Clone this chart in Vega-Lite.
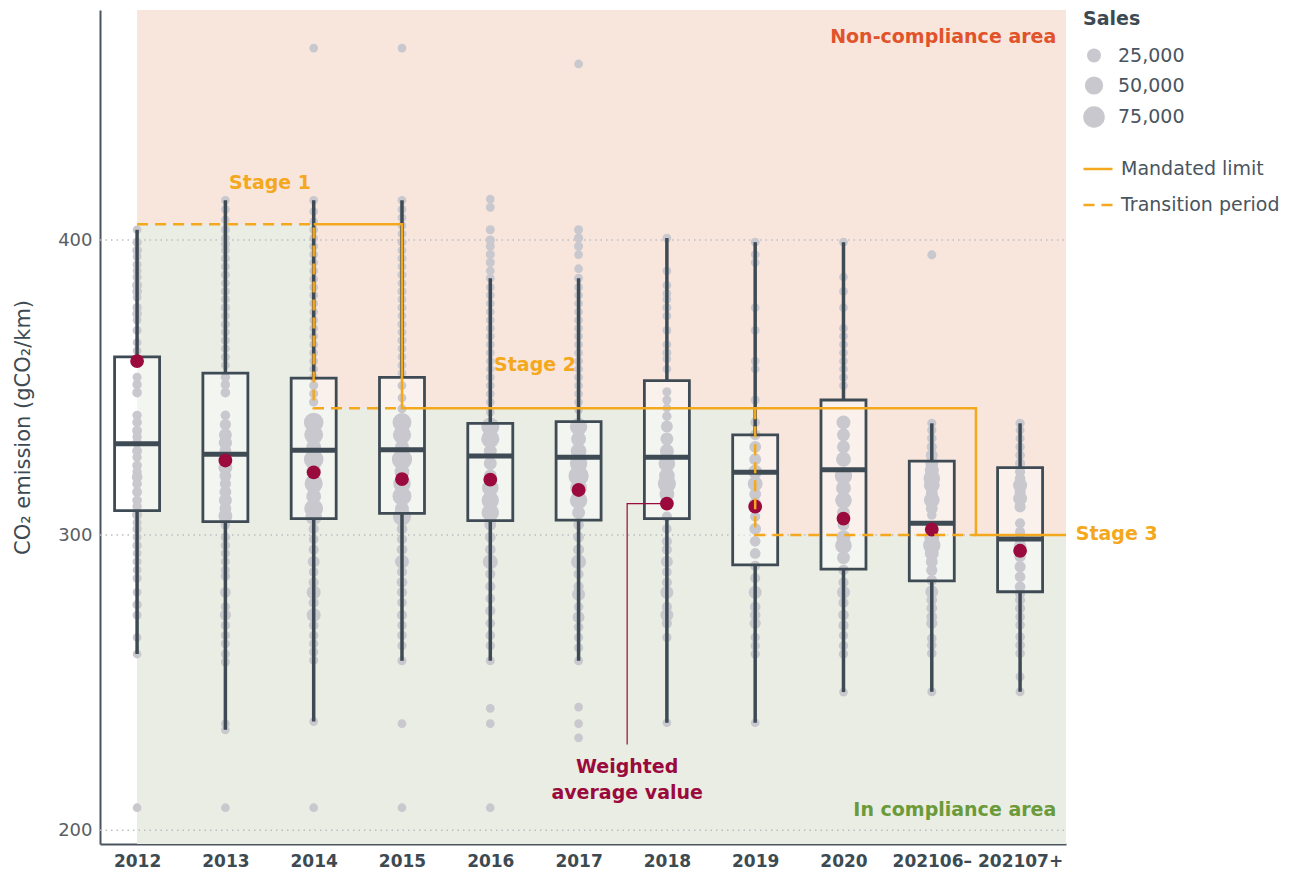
{
"$schema":"https://vega.github.io/schema/vega-lite/v6.json",
"width":966,"height":834,
"autosize":{"type":"none"},
"padding":{"left":100,"top":10,"right":244,"bottom":34},
"background":"white",
"config":{"view":{"stroke":null},"font":"DejaVu Sans","scale":{"continuousPadding":0},
 "axisX":{"ticks":false,"grid":false,"domainColor":"#4a5560","domainWidth":2,"labelFontSize":17,"labelFontWeight":"bold","labelColor":"#3d4a52","labelFont":"DejaVu Sans","labelPadding":9,"labelFlush":false,"labelOverlap":false},
 "axisY":{"ticks":false,"grid":false,"domainColor":"#4a5560","domainWidth":2,"labelFontSize":18,"labelColor":"#5a5e63","labelFont":"DejaVu Sans","labelPadding":8,"titleFontSize":21,"titleFontWeight":"normal","titleColor":"#3d4a52","titleFont":"DejaVu Sans","titlePadding":24}},
"datasets":{
"periods":[{"p":"2012","i":0},{"p":"2013","i":1},{"p":"2014","i":2},{"p":"2015","i":3},{"p":"2016","i":4},{"p":"2017","i":5},{"p":"2018","i":6},{"p":"2019","i":7},{"p":"2020","i":8},{"p":"202106–","i":9},{"p":"202107+","i":10}],
"boxes":[
{"p":"2012","lo":259.7,"q1":308.3,"med":331,"q3":360.4,"hi":403.5,"mean":359},
{"p":"2013","lo":234,"q1":304.6,"med":327.4,"q3":354.9,"hi":413.5,"mean":325.3},
{"p":"2014","lo":236.8,"q1":305.6,"med":328.8,"q3":353.2,"hi":413.5,"mean":321.3},
{"p":"2015","lo":257.4,"q1":307.4,"med":328.9,"q3":353.5,"hi":413.5,"mean":319},
{"p":"2016","lo":257.4,"q1":304.9,"med":326.8,"q3":337.9,"hi":387.1,"mean":318.8},
{"p":"2017","lo":257.4,"q1":305.1,"med":326.4,"q3":338.5,"hi":387.1,"mean":315.3},
{"p":"2018","lo":236.4,"q1":305.6,"med":326.4,"q3":352.4,"hi":400.7,"mean":310.7},
{"p":"2019","lo":236.4,"q1":289.9,"med":321.3,"q3":334,"hi":399.3,"mean":309.7},
{"p":"2020","lo":246.8,"q1":288.5,"med":322.2,"q3":345.8,"hi":399.3,"mean":305.6},
{"p":"202106–","lo":246.9,"q1":284.5,"med":304,"q3":325.1,"hi":337.9,"mean":301.9},
{"p":"202107+","lo":246.9,"q1":280.8,"med":298.7,"q3":322.9,"hi":337.9,"mean":294.7}],
"points":[
{"p":"2012","v":403.5,"s":3000},{"p":"2012","v":399.3,"s":5000},{"p":"2012","v":396.5,"s":6000},{"p":"2012","v":394.4,"s":3000},{"p":"2012","v":391.7,"s":4000},{"p":"2012","v":389.6,"s":3000},{"p":"2012","v":387.5,"s":4000},{"p":"2012","v":384.7,"s":7000},{"p":"2012","v":382.6,"s":6000},{"p":"2012","v":380.6,"s":3000},{"p":"2012","v":377.1,"s":5000},{"p":"2012","v":375,"s":6000},{"p":"2012","v":372.9,"s":3000},{"p":"2012","v":369.4,"s":4000},{"p":"2012","v":365.3,"s":3000},{"p":"2012","v":362.5,"s":3000},{"p":"2012","v":359,"s":12000},{"p":"2012","v":353.5,"s":4000},{"p":"2012","v":351,"s":5000},{"p":"2012","v":348.3,"s":6000},{"p":"2012","v":340.6,"s":5000},{"p":"2012","v":338.2,"s":6000},{"p":"2012","v":335.4,"s":7000},{"p":"2012","v":333.3,"s":5000},{"p":"2012","v":331.3,"s":6000},{"p":"2012","v":328.5,"s":7000},{"p":"2012","v":326.4,"s":5000},{"p":"2012","v":323.6,"s":6000},{"p":"2012","v":321.5,"s":5000},{"p":"2012","v":319.7,"s":10000},{"p":"2012","v":317.4,"s":6000},{"p":"2012","v":314.6,"s":7000},{"p":"2012","v":311.8,"s":6000},{"p":"2012","v":309.7,"s":5000},{"p":"2012","v":306.9,"s":8000},{"p":"2012","v":304.2,"s":4000},{"p":"2012","v":302.1,"s":5000},{"p":"2012","v":299.3,"s":3000},{"p":"2012","v":296.5,"s":5000},{"p":"2012","v":293.8,"s":3000},{"p":"2012","v":291,"s":4000},{"p":"2012","v":288.2,"s":3000},{"p":"2012","v":285.4,"s":4000},{"p":"2012","v":280.6,"s":3000},{"p":"2012","v":276.4,"s":5000},{"p":"2012","v":272.9,"s":4000},{"p":"2012","v":265.3,"s":3000},{"p":"2012","v":259.7,"s":3000},{"p":"2012","v":207.6,"s":3000},
{"p":"2013","v":413.5,"s":3000},{"p":"2013","v":410.4,"s":3000},{"p":"2013","v":406.9,"s":3000},{"p":"2013","v":403.5,"s":4000},{"p":"2013","v":400.7,"s":3000},{"p":"2013","v":398.6,"s":4000},{"p":"2013","v":396.5,"s":3000},{"p":"2013","v":393.8,"s":4000},{"p":"2013","v":391,"s":3000},{"p":"2013","v":388.2,"s":4000},{"p":"2013","v":385.4,"s":3000},{"p":"2013","v":382.6,"s":4000},{"p":"2013","v":379.9,"s":3000},{"p":"2013","v":377.1,"s":5000},{"p":"2013","v":374.3,"s":3000},{"p":"2013","v":371.5,"s":4000},{"p":"2013","v":368.8,"s":3000},{"p":"2013","v":366,"s":4000},{"p":"2013","v":363.2,"s":3000},{"p":"2013","v":360.4,"s":4000},{"p":"2013","v":357.6,"s":3000},{"p":"2013","v":353.5,"s":5000},{"p":"2013","v":351,"s":5000},{"p":"2013","v":348.3,"s":6000},{"p":"2013","v":340.6,"s":6000},{"p":"2013","v":337.5,"s":12000},{"p":"2013","v":334,"s":20000},{"p":"2013","v":331.3,"s":22000},{"p":"2013","v":328.5,"s":15000},{"p":"2013","v":325.7,"s":18000},{"p":"2013","v":322.9,"s":25000},{"p":"2013","v":320.1,"s":15000},{"p":"2013","v":317.4,"s":12000},{"p":"2013","v":314.6,"s":15000},{"p":"2013","v":311.8,"s":20000},{"p":"2013","v":309,"s":15000},{"p":"2013","v":306.5,"s":25000},{"p":"2013","v":303.5,"s":6000},{"p":"2013","v":299.3,"s":5000},{"p":"2013","v":296.5,"s":5000},{"p":"2013","v":293.8,"s":4000},{"p":"2013","v":291,"s":4000},{"p":"2013","v":288.2,"s":4000},{"p":"2013","v":286.1,"s":5000},{"p":"2013","v":280.6,"s":10000},{"p":"2013","v":275.7,"s":5000},{"p":"2013","v":272.9,"s":12000},{"p":"2013","v":269.4,"s":5000},{"p":"2013","v":266,"s":4000},{"p":"2013","v":263.2,"s":4000},{"p":"2013","v":259.7,"s":4000},{"p":"2013","v":257,"s":4000},{"p":"2013","v":236.1,"s":3000},{"p":"2013","v":234,"s":3000},{"p":"2013","v":207.6,"s":3000},
{"p":"2014","v":465.1,"s":3000},{"p":"2014","v":413.5,"s":3000},{"p":"2014","v":409.7,"s":3000},{"p":"2014","v":406.3,"s":3000},{"p":"2014","v":403.5,"s":3000},{"p":"2014","v":400.7,"s":3000},{"p":"2014","v":397.9,"s":3000},{"p":"2014","v":395.1,"s":3000},{"p":"2014","v":392.4,"s":3000},{"p":"2014","v":389.6,"s":3000},{"p":"2014","v":386.8,"s":3000},{"p":"2014","v":384,"s":3000},{"p":"2014","v":381.3,"s":3000},{"p":"2014","v":378.5,"s":3000},{"p":"2014","v":375.7,"s":3000},{"p":"2014","v":372.9,"s":3000},{"p":"2014","v":370.1,"s":3000},{"p":"2014","v":367.4,"s":3000},{"p":"2014","v":364.6,"s":3000},{"p":"2014","v":361.8,"s":3000},{"p":"2014","v":359,"s":3000},{"p":"2014","v":356.3,"s":3000},{"p":"2014","v":353.5,"s":3000},{"p":"2014","v":350.7,"s":4000},{"p":"2014","v":347.9,"s":4000},{"p":"2014","v":345.1,"s":5000},{"p":"2014","v":338.2,"s":60000},{"p":"2014","v":334,"s":55000},{"p":"2014","v":329.9,"s":30000},{"p":"2014","v":325.7,"s":60000},{"p":"2014","v":321.5,"s":30000},{"p":"2014","v":317.4,"s":50000},{"p":"2014","v":313.2,"s":30000},{"p":"2014","v":309,"s":55000},{"p":"2014","v":306.3,"s":40000},{"p":"2014","v":302.1,"s":8000},{"p":"2014","v":298.6,"s":6000},{"p":"2014","v":295.1,"s":8000},{"p":"2014","v":291,"s":15000},{"p":"2014","v":287.5,"s":6000},{"p":"2014","v":284,"s":8000},{"p":"2014","v":280.6,"s":25000},{"p":"2014","v":277.1,"s":8000},{"p":"2014","v":272.9,"s":25000},{"p":"2014","v":269.4,"s":6000},{"p":"2014","v":266,"s":5000},{"p":"2014","v":263.2,"s":5000},{"p":"2014","v":260.4,"s":5000},{"p":"2014","v":257.6,"s":4000},{"p":"2014","v":236.8,"s":3000},{"p":"2014","v":207.6,"s":3000},
{"p":"2015","v":465.1,"s":3000},{"p":"2015","v":413.5,"s":3000},{"p":"2015","v":410.4,"s":3000},{"p":"2015","v":407.6,"s":3000},{"p":"2015","v":404.9,"s":3000},{"p":"2015","v":402.1,"s":3000},{"p":"2015","v":399.3,"s":4000},{"p":"2015","v":396.5,"s":3000},{"p":"2015","v":393.8,"s":4000},{"p":"2015","v":391,"s":3000},{"p":"2015","v":388.2,"s":4000},{"p":"2015","v":385.4,"s":3000},{"p":"2015","v":382.6,"s":4000},{"p":"2015","v":379.9,"s":3000},{"p":"2015","v":377.1,"s":4000},{"p":"2015","v":374.3,"s":3000},{"p":"2015","v":371.5,"s":4000},{"p":"2015","v":368.8,"s":3000},{"p":"2015","v":366,"s":4000},{"p":"2015","v":363.2,"s":3000},{"p":"2015","v":360.4,"s":3000},{"p":"2015","v":357.6,"s":3000},{"p":"2015","v":354.9,"s":3000},{"p":"2015","v":350.7,"s":3000},{"p":"2015","v":346.5,"s":3000},{"p":"2015","v":342.8,"s":4000},{"p":"2015","v":338.2,"s":55000},{"p":"2015","v":334,"s":50000},{"p":"2015","v":329.9,"s":25000},{"p":"2015","v":325.7,"s":65000},{"p":"2015","v":321.5,"s":30000},{"p":"2015","v":317.4,"s":45000},{"p":"2015","v":313.2,"s":55000},{"p":"2015","v":309,"s":25000},{"p":"2015","v":306.3,"s":50000},{"p":"2015","v":302.1,"s":10000},{"p":"2015","v":298.6,"s":8000},{"p":"2015","v":295.1,"s":10000},{"p":"2015","v":291,"s":25000},{"p":"2015","v":287.5,"s":8000},{"p":"2015","v":284,"s":10000},{"p":"2015","v":280.6,"s":8000},{"p":"2015","v":277.1,"s":6000},{"p":"2015","v":272.9,"s":8000},{"p":"2015","v":269.4,"s":5000},{"p":"2015","v":266,"s":6000},{"p":"2015","v":262.5,"s":5000},{"p":"2015","v":257.4,"s":4000},{"p":"2015","v":236.1,"s":3000},{"p":"2015","v":207.6,"s":3000},
{"p":"2016","v":413.9,"s":3000},{"p":"2016","v":411.1,"s":3000},{"p":"2016","v":403.5,"s":4000},{"p":"2016","v":400,"s":5000},{"p":"2016","v":397.9,"s":4000},{"p":"2016","v":395.1,"s":4000},{"p":"2016","v":392.4,"s":4000},{"p":"2016","v":389.6,"s":3000},{"p":"2016","v":387.1,"s":3000},{"p":"2016","v":384,"s":3000},{"p":"2016","v":381.3,"s":3000},{"p":"2016","v":378.5,"s":3000},{"p":"2016","v":375.7,"s":3000},{"p":"2016","v":372.9,"s":3000},{"p":"2016","v":370.1,"s":3000},{"p":"2016","v":367.4,"s":3000},{"p":"2016","v":364.6,"s":3000},{"p":"2016","v":361.8,"s":3000},{"p":"2016","v":359,"s":3000},{"p":"2016","v":356.3,"s":3000},{"p":"2016","v":353.5,"s":3000},{"p":"2016","v":350.7,"s":3000},{"p":"2016","v":347.9,"s":3000},{"p":"2016","v":345.1,"s":3000},{"p":"2016","v":341.7,"s":3000},{"p":"2016","v":336.8,"s":50000},{"p":"2016","v":332.6,"s":50000},{"p":"2016","v":328.5,"s":20000},{"p":"2016","v":324.3,"s":20000},{"p":"2016","v":320.1,"s":20000},{"p":"2016","v":316,"s":40000},{"p":"2016","v":311.8,"s":45000},{"p":"2016","v":307.6,"s":45000},{"p":"2016","v":303.5,"s":15000},{"p":"2016","v":299.3,"s":10000},{"p":"2016","v":295.1,"s":10000},{"p":"2016","v":291,"s":30000},{"p":"2016","v":286.8,"s":8000},{"p":"2016","v":282.6,"s":8000},{"p":"2016","v":278.5,"s":6000},{"p":"2016","v":274.3,"s":8000},{"p":"2016","v":270.1,"s":6000},{"p":"2016","v":266,"s":6000},{"p":"2016","v":262.5,"s":5000},{"p":"2016","v":257.4,"s":4000},{"p":"2016","v":241.3,"s":3000},{"p":"2016","v":236.1,"s":3000},{"p":"2016","v":207.6,"s":3000},
{"p":"2017","v":459.7,"s":3000},{"p":"2017","v":403.5,"s":4000},{"p":"2017","v":400.7,"s":5000},{"p":"2017","v":397.9,"s":4000},{"p":"2017","v":395.1,"s":3000},{"p":"2017","v":390.3,"s":3000},{"p":"2017","v":387.1,"s":3000},{"p":"2017","v":384,"s":3000},{"p":"2017","v":381.3,"s":3000},{"p":"2017","v":378.5,"s":3000},{"p":"2017","v":375.7,"s":3000},{"p":"2017","v":372.9,"s":3000},{"p":"2017","v":370.1,"s":3000},{"p":"2017","v":367.4,"s":3000},{"p":"2017","v":364.6,"s":3000},{"p":"2017","v":361.8,"s":3000},{"p":"2017","v":359,"s":3000},{"p":"2017","v":356.3,"s":3000},{"p":"2017","v":353.5,"s":3000},{"p":"2017","v":350.7,"s":3000},{"p":"2017","v":347.9,"s":3000},{"p":"2017","v":345.1,"s":3000},{"p":"2017","v":342.4,"s":3000},{"p":"2017","v":336.8,"s":45000},{"p":"2017","v":332.6,"s":30000},{"p":"2017","v":328.5,"s":35000},{"p":"2017","v":324.3,"s":45000},{"p":"2017","v":320.1,"s":65000},{"p":"2017","v":316,"s":40000},{"p":"2017","v":311.8,"s":45000},{"p":"2017","v":307.6,"s":20000},{"p":"2017","v":303.5,"s":10000},{"p":"2017","v":299.3,"s":10000},{"p":"2017","v":295.1,"s":12000},{"p":"2017","v":291,"s":30000},{"p":"2017","v":286.8,"s":8000},{"p":"2017","v":282.6,"s":8000},{"p":"2017","v":279.9,"s":20000},{"p":"2017","v":275.7,"s":6000},{"p":"2017","v":272.2,"s":15000},{"p":"2017","v":268.8,"s":6000},{"p":"2017","v":265.3,"s":5000},{"p":"2017","v":261.8,"s":5000},{"p":"2017","v":257.4,"s":4000},{"p":"2017","v":241.7,"s":3000},{"p":"2017","v":236.1,"s":3000},{"p":"2017","v":231.3,"s":3000},
{"p":"2018","v":400.7,"s":3000},{"p":"2018","v":389.6,"s":3000},{"p":"2018","v":384.7,"s":3000},{"p":"2018","v":381.9,"s":3000},{"p":"2018","v":379.9,"s":3000},{"p":"2018","v":377.1,"s":4000},{"p":"2018","v":374.3,"s":3000},{"p":"2018","v":369.4,"s":3000},{"p":"2018","v":364.6,"s":3000},{"p":"2018","v":361.8,"s":4000},{"p":"2018","v":359.7,"s":3000},{"p":"2018","v":356.3,"s":3000},{"p":"2018","v":348.6,"s":4000},{"p":"2018","v":345.8,"s":4000},{"p":"2018","v":343.1,"s":3000},{"p":"2018","v":340.3,"s":5000},{"p":"2018","v":336.8,"s":15000},{"p":"2018","v":332.6,"s":20000},{"p":"2018","v":328.5,"s":25000},{"p":"2018","v":324.3,"s":40000},{"p":"2018","v":320.1,"s":35000},{"p":"2018","v":317.4,"s":50000},{"p":"2018","v":313.9,"s":30000},{"p":"2018","v":306.3,"s":8000},{"p":"2018","v":302.1,"s":6000},{"p":"2018","v":297.9,"s":8000},{"p":"2018","v":295.1,"s":8000},{"p":"2018","v":291,"s":15000},{"p":"2018","v":287.5,"s":6000},{"p":"2018","v":284,"s":8000},{"p":"2018","v":280.6,"s":20000},{"p":"2018","v":275.7,"s":8000},{"p":"2018","v":272.9,"s":20000},{"p":"2018","v":270.1,"s":8000},{"p":"2018","v":265.3,"s":5000},{"p":"2018","v":236.4,"s":3000},
{"p":"2019","v":399.3,"s":3000},{"p":"2019","v":395.1,"s":3000},{"p":"2019","v":392.4,"s":3000},{"p":"2019","v":377.1,"s":3000},{"p":"2019","v":369.4,"s":3000},{"p":"2019","v":359,"s":3000},{"p":"2019","v":356.3,"s":3000},{"p":"2019","v":345.8,"s":4000},{"p":"2019","v":338.2,"s":6000},{"p":"2019","v":334,"s":10000},{"p":"2019","v":329.9,"s":15000},{"p":"2019","v":325.7,"s":15000},{"p":"2019","v":321.5,"s":25000},{"p":"2019","v":317.4,"s":30000},{"p":"2019","v":313.9,"s":15000},{"p":"2019","v":310.4,"s":20000},{"p":"2019","v":306.3,"s":8000},{"p":"2019","v":302.1,"s":15000},{"p":"2019","v":297.9,"s":10000},{"p":"2019","v":293.8,"s":10000},{"p":"2019","v":289.6,"s":8000},{"p":"2019","v":285.4,"s":8000},{"p":"2019","v":280.6,"s":20000},{"p":"2019","v":275.7,"s":10000},{"p":"2019","v":272.9,"s":10000},{"p":"2019","v":270.1,"s":12000},{"p":"2019","v":265.3,"s":5000},{"p":"2019","v":262.5,"s":5000},{"p":"2019","v":259.7,"s":5000},{"p":"2019","v":236.4,"s":3000},
{"p":"2020","v":399.3,"s":3000},{"p":"2020","v":387.5,"s":3000},{"p":"2020","v":382.6,"s":3000},{"p":"2020","v":377.1,"s":3000},{"p":"2020","v":370.1,"s":3000},{"p":"2020","v":367.4,"s":3000},{"p":"2020","v":364.6,"s":3000},{"p":"2020","v":361.8,"s":3000},{"p":"2020","v":359,"s":3000},{"p":"2020","v":356.3,"s":3000},{"p":"2020","v":353.5,"s":3000},{"p":"2020","v":350.7,"s":3000},{"p":"2020","v":338.2,"s":25000},{"p":"2020","v":334,"s":20000},{"p":"2020","v":329.9,"s":20000},{"p":"2020","v":325.7,"s":30000},{"p":"2020","v":320.1,"s":45000},{"p":"2020","v":316,"s":30000},{"p":"2020","v":311.8,"s":40000},{"p":"2020","v":307.6,"s":20000},{"p":"2020","v":303.5,"s":15000},{"p":"2020","v":299.3,"s":25000},{"p":"2020","v":296.5,"s":40000},{"p":"2020","v":292.4,"s":20000},{"p":"2020","v":288.2,"s":10000},{"p":"2020","v":284,"s":8000},{"p":"2020","v":280.6,"s":20000},{"p":"2020","v":277.1,"s":8000},{"p":"2020","v":272.9,"s":10000},{"p":"2020","v":269.4,"s":8000},{"p":"2020","v":266,"s":5000},{"p":"2020","v":262.5,"s":5000},{"p":"2020","v":259.7,"s":5000},{"p":"2020","v":246.8,"s":3000},
{"p":"202106–","v":395,"s":4000},{"p":"202106–","v":337.9,"s":4000},{"p":"202106–","v":335.6,"s":5000},{"p":"202106–","v":332.8,"s":6000},{"p":"202106–","v":329.9,"s":8000},{"p":"202106–","v":327.1,"s":15000},{"p":"202106–","v":324.3,"s":20000},{"p":"202106–","v":322,"s":25000},{"p":"202106–","v":319.2,"s":40000},{"p":"202106–","v":316.9,"s":35000},{"p":"202106–","v":314.1,"s":15000},{"p":"202106–","v":311.9,"s":35000},{"p":"202106–","v":309,"s":15000},{"p":"202106–","v":306.8,"s":6000},{"p":"202106–","v":302.8,"s":15000},{"p":"202106–","v":299.4,"s":30000},{"p":"202106–","v":296.6,"s":45000},{"p":"202106–","v":293.8,"s":25000},{"p":"202106–","v":291,"s":15000},{"p":"202106–","v":288.1,"s":12000},{"p":"202106–","v":284.7,"s":10000},{"p":"202106–","v":280.8,"s":20000},{"p":"202106–","v":278,"s":10000},{"p":"202106–","v":275.2,"s":10000},{"p":"202106–","v":272.3,"s":10000},{"p":"202106–","v":270.1,"s":12000},{"p":"202106–","v":265,"s":6000},{"p":"202106–","v":262.7,"s":6000},{"p":"202106–","v":259.9,"s":6000},{"p":"202106–","v":246.9,"s":4000},
{"p":"202107+","v":337.9,"s":5000},{"p":"202107+","v":335.6,"s":4000},{"p":"202107+","v":332.8,"s":4000},{"p":"202107+","v":329.9,"s":5000},{"p":"202107+","v":327.1,"s":6000},{"p":"202107+","v":324.3,"s":8000},{"p":"202107+","v":321.5,"s":8000},{"p":"202107+","v":319.2,"s":10000},{"p":"202107+","v":316.9,"s":25000},{"p":"202107+","v":314.7,"s":12000},{"p":"202107+","v":312.4,"s":25000},{"p":"202107+","v":309.6,"s":12000},{"p":"202107+","v":304,"s":8000},{"p":"202107+","v":301.1,"s":8000},{"p":"202107+","v":298.3,"s":10000},{"p":"202107+","v":296,"s":20000},{"p":"202107+","v":292.7,"s":12000},{"p":"202107+","v":289.3,"s":12000},{"p":"202107+","v":285.9,"s":10000},{"p":"202107+","v":282.5,"s":10000},{"p":"202107+","v":280.2,"s":8000},{"p":"202107+","v":278,"s":8000},{"p":"202107+","v":275.2,"s":8000},{"p":"202107+","v":272.3,"s":6000},{"p":"202107+","v":269.5,"s":6000},{"p":"202107+","v":265.5,"s":6000},{"p":"202107+","v":262.7,"s":6000},{"p":"202107+","v":259.9,"s":6000},{"p":"202107+","v":252,"s":4000},{"p":"202107+","v":246.9,"s":4000}],
"stages":[
{"seg":"m","kind":"Mandated limit","o":1,"i":2,"v":405.4},{"seg":"m","kind":"Mandated limit","o":2,"i":3,"v":405.4},{"seg":"m","kind":"Mandated limit","o":3,"i":3,"v":343},{"seg":"m","kind":"Mandated limit","o":4,"i":9.5,"v":343},{"seg":"m","kind":"Mandated limit","o":5,"i":9.5,"v":300},{"seg":"m","kind":"Mandated limit","o":6,"i":10.52,"v":300},
{"seg":"t1","kind":"Transition period","o":1,"i":0,"v":405.4},{"seg":"t1","kind":"Transition period","o":2,"i":2,"v":405.4},{"seg":"t1","kind":"Transition period","o":3,"i":2,"v":343},{"seg":"t1","kind":"Transition period","o":4,"i":3,"v":343},
{"seg":"t2","kind":"Transition period","o":1,"i":7,"v":343},{"seg":"t2","kind":"Transition period","o":2,"i":7,"v":300},{"seg":"t2","kind":"Transition period","o":3,"i":9.5,"v":300}]
},
"layer":[
{"data":{"values":[{"i":0,"i2":10.52,"v":195.3,"v2":478}]},
 "mark":{"type":"rect","color":"#f8e6dd"},
 "encoding":{
  "x":{"field":"i","type":"quantitative","scale":{"domain":[-0.42,10.52],"nice":false,"zero":false,"padding":0},
   "axis":{"values":[0,1,2,3,4,5,6,7,8,9,10],"labelExpr":"['2012','2013','2014','2015','2016','2017','2018','2019','2020','202106–','202107+'][datum.value]","title":null}},
  "x2":{"field":"i2"},
  "y":{"field":"v","type":"quantitative","scale":{"domain":[195.3,478],"nice":false,"zero":false,"padding":0},
   "axis":{"values":[200,300,400],"title":"CO₂ emission (gCO₂/km)"}},
  "y2":{"field":"v2"}}},
{"data":{"values":[{"i":0,"i2":2,"v":195.3,"v2":405.4},{"i":2,"i2":7,"v":195.3,"v2":343},{"i":7,"i2":10.52,"v":195.3,"v2":300}]},
 "mark":{"type":"rect","color":"#eaede3"},
 "encoding":{"x":{"field":"i","type":"quantitative","scale":{"domain":[-0.42,10.52],"nice":false,"zero":false}},"x2":{"field":"i2"},
  "y":{"field":"v","type":"quantitative","scale":{"domain":[195.3,478],"nice":false,"zero":false}},"y2":{"field":"v2"}}},
{"data":{"values":[{"i":-0.42,"i2":10.52,"v":200},{"i":-0.42,"i2":10.52,"v":300},{"i":-0.42,"i2":10.52,"v":400}]},
 "mark":{"type":"rule","color":"#b9bdc2","strokeDash":[1.5,4],"strokeWidth":1.5},
 "encoding":{"x":{"field":"i","type":"quantitative","scale":{"domain":[-0.42,10.52],"nice":false,"zero":false}},"x2":{"field":"i2"},
  "y":{"field":"v","type":"quantitative","scale":{"domain":[195.3,478],"nice":false,"zero":false}}}},
{"data":{"name":"boxes"},
 "transform":[{"lookup":"p","from":{"data":{"name":"periods"},"key":"p","fields":["i"]}}],
 "mark":{"type":"bar","width":47,"color":"white","opacity":0.45},
 "encoding":{"x":{"field":"i","type":"quantitative","scale":{"domain":[-0.42,10.52],"nice":false,"zero":false}},
  "y":{"field":"q1","type":"quantitative","scale":{"domain":[195.3,478],"nice":false,"zero":false}},"y2":{"field":"q3"}}},
{"data":{"name":"points"},
 "transform":[{"lookup":"p","from":{"data":{"name":"periods"},"key":"p","fields":["i"]}}],
 "mark":{"type":"point","filled":true,"color":"#c8c8ce","opacity":1,"strokeWidth":0},
 "encoding":{"x":{"field":"i","type":"quantitative","scale":{"domain":[-0.42,10.52],"nice":false,"zero":false}},
  "y":{"field":"v","type":"quantitative","scale":{"domain":[195.3,478],"nice":false,"zero":false}},
  "size":{"field":"s","type":"quantitative","scale":{"domain":[0,100000],"range":[60,600],"zero":true},
   "legend":{"title":"Sales","orient":"none","legendX":983,"legendY":0,"values":[25000,50000,75000],"labelExpr":"format(datum.value, ',')","titleFontSize":19,"titleFont":"DejaVu Sans","titleFontWeight":"bold","titleColor":"#3d4a52","labelFontSize":19,"labelFont":"DejaVu Sans","labelColor":"#4a5560","symbolFillColor":"#c8c8ce","symbolStrokeWidth":0,"symbolOpacity":1,"rowPadding":10,"titlePadding":17,"labelOffset":13}}}},
{"data":{"name":"boxes"},
 "transform":[{"lookup":"p","from":{"data":{"name":"periods"},"key":"p","fields":["i"]}}],
 "mark":{"type":"rule","color":"#3f4b54","strokeWidth":3.5},
 "encoding":{"x":{"field":"i","type":"quantitative","scale":{"domain":[-0.42,10.52],"nice":false,"zero":false}},
  "y":{"field":"lo","type":"quantitative","scale":{"domain":[195.3,478],"nice":false,"zero":false}},"y2":{"field":"q1"}}},
{"data":{"name":"boxes"},
 "transform":[{"lookup":"p","from":{"data":{"name":"periods"},"key":"p","fields":["i"]}}],
 "mark":{"type":"rule","color":"#3f4b54","strokeWidth":3.5},
 "encoding":{"x":{"field":"i","type":"quantitative","scale":{"domain":[-0.42,10.52],"nice":false,"zero":false}},
  "y":{"field":"q3","type":"quantitative","scale":{"domain":[195.3,478],"nice":false,"zero":false}},"y2":{"field":"hi"}}},
{"data":{"name":"boxes"},
 "transform":[{"lookup":"p","from":{"data":{"name":"periods"},"key":"p","fields":["i"]}}],
 "mark":{"type":"bar","width":45,"fill":"transparent","stroke":"#3f4b54","strokeWidth":2.8},
 "encoding":{"x":{"field":"i","type":"quantitative","scale":{"domain":[-0.42,10.52],"nice":false,"zero":false}},
  "y":{"field":"q1","type":"quantitative","scale":{"domain":[195.3,478],"nice":false,"zero":false}},"y2":{"field":"q3"}}},
{"data":{"name":"boxes"},
 "transform":[{"lookup":"p","from":{"data":{"name":"periods"},"key":"p","fields":["i"]}}],
 "mark":{"type":"tick","orient":"horizontal","color":"#3f4b54","size":46,"thickness":5,"opacity":1},
 "encoding":{"x":{"field":"i","type":"quantitative","scale":{"domain":[-0.42,10.52],"nice":false,"zero":false}},
  "y":{"field":"med","type":"quantitative","scale":{"domain":[195.3,478],"nice":false,"zero":false}}}},
{"data":{"values":[{"i":6,"v":310.7,"o":1},{"i":5.55,"v":310.7,"o":2},{"i":5.55,"v":229,"o":3}]},
 "mark":{"type":"line","color":"#9b0a3c","strokeWidth":1.2},
 "encoding":{"x":{"field":"i","type":"quantitative","scale":{"domain":[-0.42,10.52],"nice":false,"zero":false}},
  "y":{"field":"v","type":"quantitative","scale":{"domain":[195.3,478],"nice":false,"zero":false}},"order":{"field":"o"}}},
{"data":{"name":"boxes"},
 "transform":[{"lookup":"p","from":{"data":{"name":"periods"},"key":"p","fields":["i"]}}],
 "mark":{"type":"point","filled":true,"color":"#9b0a3c","opacity":1,"size":190},
 "encoding":{"x":{"field":"i","type":"quantitative","scale":{"domain":[-0.42,10.52],"nice":false,"zero":false}},
  "y":{"field":"mean","type":"quantitative","scale":{"domain":[195.3,478],"nice":false,"zero":false}}}},
{"data":{"name":"stages"},
 "mark":{"type":"line","color":"#f4a81d","strokeWidth":2.5},
 "encoding":{"x":{"field":"i","type":"quantitative","scale":{"domain":[-0.42,10.52],"nice":false,"zero":false}},
  "y":{"field":"v","type":"quantitative","scale":{"domain":[195.3,478],"nice":false,"zero":false}},
  "detail":{"field":"seg"},"order":{"field":"o"},
  "strokeDash":{"field":"kind","type":"nominal","scale":{"domain":["Mandated limit","Transition period"],"range":[[1,0],[11,7]]},
   "legend":{"title":null,"orient":"none","legendX":982,"legendY":143,"symbolType":"stroke","symbolStrokeColor":"#f4a81d","symbolStrokeWidth":2.5,"symbolSize":841,"labelFontSize":19,"labelFont":"DejaVu Sans","labelColor":"#4a5560","rowPadding":10,"labelOffset":7}}}},
{"data":{"values":[{"i":10.41,"v":468.8,"t":"Non-compliance area"}]},
 "mark":{"type":"text","align":"right","baseline":"middle","fontSize":19,"fontWeight":"bold","font":"DejaVu Sans","color":"#e1532a"},
 "encoding":{"x":{"field":"i","type":"quantitative","scale":{"domain":[-0.42,10.52],"nice":false,"zero":false}},
  "y":{"field":"v","type":"quantitative","scale":{"domain":[195.3,478],"nice":false,"zero":false}},"text":{"field":"t"}}},
{"data":{"values":[{"i":10.41,"v":206.8,"t":"In compliance area"}]},
 "mark":{"type":"text","align":"right","baseline":"middle","fontSize":19,"fontWeight":"bold","font":"DejaVu Sans","color":"#6a9a3a"},
 "encoding":{"x":{"field":"i","type":"quantitative","scale":{"domain":[-0.42,10.52],"nice":false,"zero":false}},
  "y":{"field":"v","type":"quantitative","scale":{"domain":[195.3,478],"nice":false,"zero":false}},"text":{"field":"t"}}},
{"data":{"values":[{"i":1.506,"v":419.3,"t":"Stage 1"},{"i":4.507,"v":357.6,"t":"Stage 2"}]},
 "mark":{"type":"text","align":"center","baseline":"middle","fontSize":19,"fontWeight":"bold","font":"DejaVu Sans","color":"#f4a81d"},
 "encoding":{"x":{"field":"i","type":"quantitative","scale":{"domain":[-0.42,10.52],"nice":false,"zero":false}},
  "y":{"field":"v","type":"quantitative","scale":{"domain":[195.3,478],"nice":false,"zero":false}},"text":{"field":"t"}}},
{"data":{"values":[{"i":10.63,"v":300.3,"t":"Stage 3"}]},
 "mark":{"type":"text","align":"left","baseline":"middle","fontSize":19,"fontWeight":"bold","font":"DejaVu Sans","color":"#f4a81d"},
 "encoding":{"x":{"field":"i","type":"quantitative","scale":{"domain":[-0.42,10.52],"nice":false,"zero":false}},
  "y":{"field":"v","type":"quantitative","scale":{"domain":[195.3,478],"nice":false,"zero":false}},"text":{"field":"t"}}},
{"data":{"values":[{"i":5.55,"v":221.4,"t":"Weighted"},{"i":5.55,"v":212.5,"t":"average value"}]},
 "mark":{"type":"text","align":"center","baseline":"middle","fontSize":19,"fontWeight":"bold","font":"DejaVu Sans","color":"#9b0a3c"},
 "encoding":{"x":{"field":"i","type":"quantitative","scale":{"domain":[-0.42,10.52],"nice":false,"zero":false}},
  "y":{"field":"v","type":"quantitative","scale":{"domain":[195.3,478],"nice":false,"zero":false}},"text":{"field":"t"}}}
]
}
